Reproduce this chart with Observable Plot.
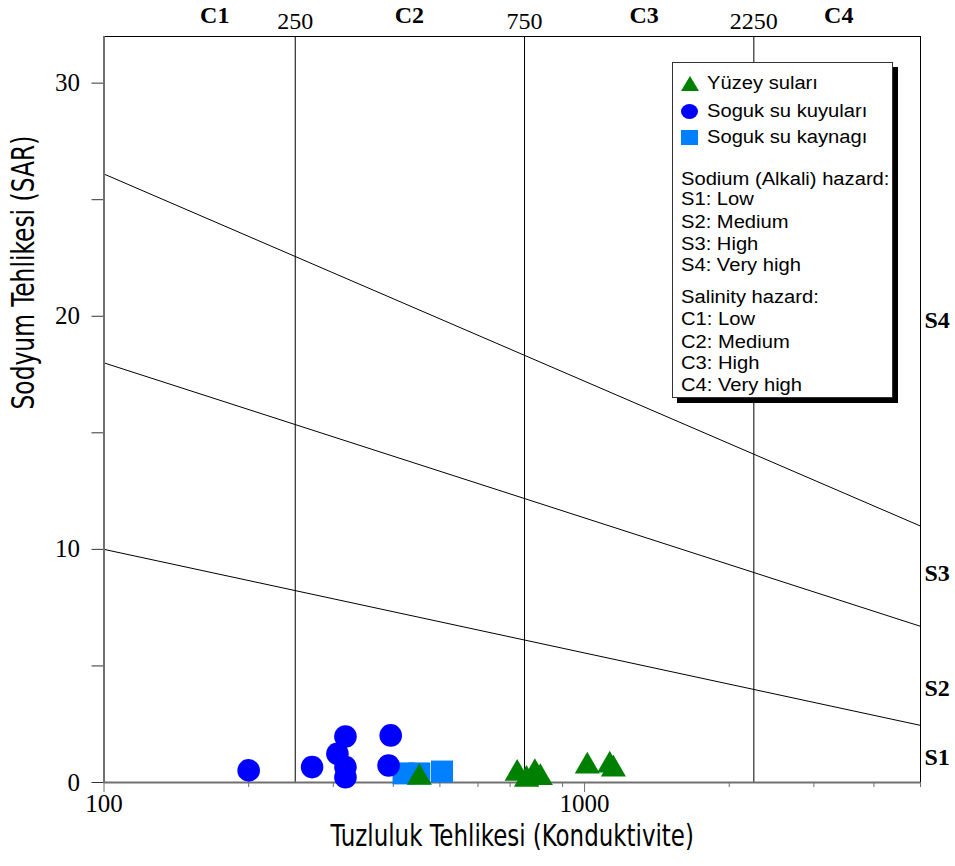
<!DOCTYPE html>
<html>
<head>
<meta charset="utf-8">
<script src="https://cdn.jsdelivr.net/npm/d3@7"></script>
<script src="https://cdn.jsdelivr.net/npm/@observablehq/plot@0.6"></script>
<style>
  body { margin: 0; background: #fff; }
  #wrap { position: relative; width: 955px; height: 866px; }
  .legend {
    position: absolute; left: 672px; top: 62px; width: 221px; height: 336px;
    box-sizing: border-box; border: 1px solid #333; background: #fff;
    box-shadow: 5px 5px 0 #000;
    font-family: "Liberation Sans", Arial, sans-serif; font-size: 18px; color: #000;
  }
  .legend .row {
    position: absolute; height: 22px; line-height: 22px; white-space: nowrap;
    transform: scaleX(1.12); transform-origin: left center;
  }
  .legend svg { position: absolute; overflow: visible; }
</style>
</head>
<body>
<div id="wrap"></div>
<script>
// Water samples: electrical conductivity (µS/cm) and sodium adsorption ratio
const surfaceEC  = [453, 724, 757, 788, 809, 1013, 1128, 1148];
const surfaceSAR = [0.21, 0.39, 0.13, 0.42, 0.20, 0.70, 0.74, 0.57];
const wellEC     = [200, 271, 306, 318, 318, 318, 395, 391];
const wellSAR    = [0.52, 0.66, 1.23, 1.97, 0.66, 0.23, 2.02, 0.73];
const springEC   = [420, 453, 505];
const springSAR  = [0.39, 0.39, 0.47];

const seriesNames   = ["Yüzey suları", "Soguk su kuyuları", "Soguk su kaynagı"];
const seriesColors  = ["#008000", "#0000ff", "#0080ff"];
const seriesSymbols = ["triangle", "circle", "square"];

// Sodium hazard class boundaries, given at both ends of the EC range
const boundaryEC   = [100, 5000];
const boundaryS1S2 = [10.0, 2.45];
const boundaryS2S3 = [18.0, 6.7];
const boundaryS3S4 = [26.1, 11.0];

// Salinity class limits and class label positions
const salinityLimits  = [250, 750, 2250];
const salinityClasses = ["C1", "C2", "C3", "C4"];
const salinityClassEC = [170, 432, 1330, 3380];
const sodiumClasses   = ["S1", "S2", "S3", "S4"];
const sodiumClassSAR  = [1.07, 4.03, 8.97, 19.83];

// Axis ticks
const xTicks = [100, 1000];
const xMinor = [200, 300, 400, 500, 600, 700, 800, 900, 2000, 3000, 4000, 5000];
const yTicks = [0, 10, 20, 30];
const yMinor = [5, 15, 25];

// Axis titles
const xTitle = "Tuzluluk Tehlikesi (Konduktivite)";
const yTitle = "Sodyum Tehlikesi (SAR)";

// Legend text
const sodiumLegend   = ["Sodium (Alkali) hazard:", "S1: Low", "S2: Medium", "S3: High", "S4: Very high"];
const salinityLegend = ["Salinity hazard:", "C1: Low", "C2: Medium", "C3: High", "C4: Very high"];

const toRows = (ec, sar) => ec.map((e, i) => ({ec: e, sar: sar[i]}));
const surface = toRows(surfaceEC, surfaceSAR);
const wells = toRows(wellEC, wellSAR);
const springs = toRows(springEC, springSAR);
const boundaries = [
  ["S1/S2", boundaryS1S2], ["S2/S3", boundaryS2S3], ["S3/S4", boundaryS3S4]
].flatMap(([name, sars]) => boundaryEC.map((ec, i) => ({name, ec, sar: sars[i]})));

const serif = '"Liberation Serif", "Times New Roman", serif';
const narrow = '"Liberation Sans Narrow", "Arial Narrow", "DejaVu Sans Condensed", sans-serif';
const axisGrey = "#707070";

const chart = Plot.plot({
  width: 955,
  height: 866,
  marginTop: 36,
  marginRight: 35,
  marginBottom: 84,
  marginLeft: 103.5,
  x: {type: "log", domain: [100, 5000]},
  y: {domain: [0, 32]},
  style: {fontFamily: serif, fontSize: "24px", background: "#fff", color: "#000", overflow: "visible"},
  marks: [
    // class limits
    Plot.ruleX(salinityLimits, {stroke: "#000", strokeWidth: 1}),
    Plot.line(boundaries, {x: "ec", y: "sar", z: "name", stroke: "#000", strokeWidth: 1}),
    // frame top and right
    Plot.ruleY([32], {stroke: "#000", strokeWidth: 1}),
    Plot.ruleX([5000], {stroke: "#000", strokeWidth: 1}),
    // axes
    Plot.axisX(xMinor, {tickSize: 5, tickFormat: () => "", stroke: axisGrey, label: null}),
    Plot.axisX(xTicks, {tickSize: 10, tickPadding: 2, tickFormat: d => String(d), stroke: axisGrey, fill: "#000", fontSize: 25, label: null}),
    Plot.axisY(yMinor, {tickSize: 12, tickFormat: () => "", stroke: "#333", label: null}),
    Plot.axisY(yTicks, {tickSize: 12, tickPadding: 12, tickFormat: d => String(d), stroke: "#333", fill: "#000", fontSize: 25, label: null}),
    Plot.ruleX([100], {stroke: axisGrey, strokeWidth: 2}),
    Plot.ruleY([0], {stroke: axisGrey, strokeWidth: 2}),
    // samples
    Plot.dot(springs, {x: "ec", y: "sar", symbol: seriesSymbols[2], r: 12.4, fill: seriesColors[2], stroke: null}),
    Plot.dot(wells, {x: "ec", y: "sar", symbol: seriesSymbols[1], r: 11.3, fill: seriesColors[1], stroke: null}),
    Plot.dot(surface, {x: "ec", y: "sar", symbol: seriesSymbols[0], r: 9.3, fill: seriesColors[0], stroke: null}),
    // class labels
    Plot.text(salinityClasses, {x: salinityClassEC, text: d => d, frameAnchor: "top", lineAnchor: "bottom", dy: -14, fontWeight: "bold", fontSize: 24}),
    Plot.text(salinityLimits, {x: d => d, text: d => String(d), frameAnchor: "top", lineAnchor: "bottom", dy: -8, fontSize: 24}),
    Plot.text(sodiumClasses, {y: sodiumClassSAR, text: d => d, frameAnchor: "right", textAnchor: "start", dx: 4, fontWeight: "bold", fontSize: 24}),
    // axis titles
    Plot.text([xTitle], {frameAnchor: "bottom", dy: 63, fontFamily: narrow, fontSize: 25.5}),
    Plot.text([yTitle], {frameAnchor: "left", rotate: -90, dx: -80, fontFamily: narrow, fontSize: 26})
  ]
});

// The titles are set in a tall condensed face: stretch the glyphs across the text line
d3.select(chart).selectAll("text").each(function() {
  const t = this.textContent;
  if (t === xTitle || t === yTitle) {
    this.setAttribute("transform", this.getAttribute("transform") + " scale(1,1.2)");
  }
});

const wrap = document.getElementById("wrap");
wrap.appendChild(chart);

// Legend box
const legend = document.createElement("div");
legend.className = "legend";
const symbolSvg = {
  triangle: c => `<svg width="18" height="15" style="left:8px;top:-7px" viewBox="0 0 18 15"><polygon points="9,0 18,15 0,15" fill="${c}"/></svg>`,
  circle: c => `<svg width="17" height="15" style="left:8px;top:-7px" viewBox="0 0 17 15"><ellipse cx="8.5" cy="7.5" rx="8.5" ry="7.5" fill="${c}"/></svg>`,
  square: c => `<svg width="17" height="15" style="left:8px;top:-7px" viewBox="0 0 17 15"><rect width="17" height="15" fill="${c}"/></svg>`
};
const itemCenters = [20, 48, 74];
let html = "";
seriesNames.forEach((name, i) => {
  html += `<div style="position:absolute;left:0;top:${itemCenters[i]}px">${symbolSvg[seriesSymbols[i]](seriesColors[i])}</div>`;
  html += `<div class="row" style="left:34px;top:${itemCenters[i] - 11}px">${name}</div>`;
});
const lineCenters = [116, 136, 159, 181, 202, 234, 256, 279, 300, 322];
[...sodiumLegend, ...salinityLegend].forEach((t, i) => {
  html += `<div class="row" style="left:8px;top:${lineCenters[i] - 11}px">${t}</div>`;
});
legend.innerHTML = html;
wrap.appendChild(legend);
</script>
</body>
</html>
